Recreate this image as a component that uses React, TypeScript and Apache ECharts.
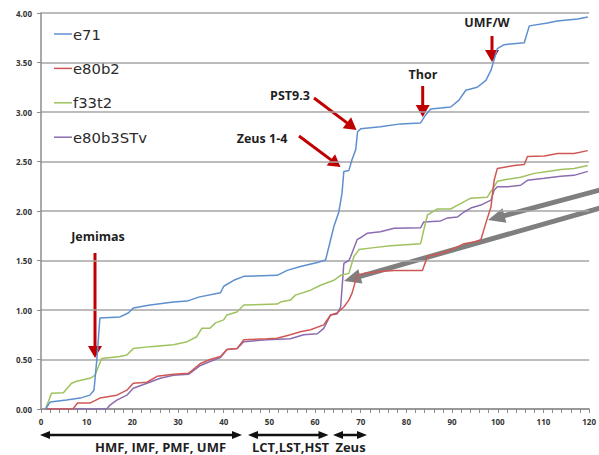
import React, { useEffect, useRef } from "react";
import * as echarts from "echarts";

// Cumulative values per build, sampled along the x range 0–120.
const e71X = [1, 2, 5.6, 8.6, 10.7, 11.6, 12.2, 12.9, 17.3, 19.1, 20.2, 23.9, 29, 32, 34.5, 39.3, 40, 42.2, 44.4, 51.7, 53.9, 56.8, 60.5, 62.3, 63.4, 64.1, 65.2, 65.9, 66.3, 67.4, 68.1, 68.9, 69.3, 70, 74.3, 78.7, 83.1, 84.2, 85.3, 89.7, 91.5, 93, 95.5, 97.4, 98.5, 99.2, 99.9, 101.4, 105.8, 106.9, 110.9, 113, 117.5, 119.7];
const e71Y = [0, 0.07, 0.09, 0.11, 0.14, 0.19, 0.49, 0.92, 0.93, 0.97, 1.02, 1.05, 1.08, 1.09, 1.13, 1.175, 1.24, 1.3, 1.34, 1.35, 1.4, 1.44, 1.48, 1.505, 1.71, 1.84, 1.99, 2.18, 2.4, 2.41, 2.52, 2.62, 2.8, 2.83, 2.85, 2.88, 2.89, 2.97, 3.03, 3.05, 3.12, 3.22, 3.25, 3.32, 3.42, 3.53, 3.64, 3.68, 3.7, 3.87, 3.9, 3.92, 3.94, 3.96];

const e80b2X = [1, 7, 8, 10.7, 12.9, 16.6, 18.8, 20.2, 23.2, 25.4, 29, 32.3, 34.9, 37, 39.3, 40.7, 42.9, 44.4, 49.5, 51.7, 54.6, 56.8, 59, 61.9, 63.4, 64.8, 66.3, 67.4, 68.1, 69.2, 70.7, 74.3, 77.3, 83.5, 84.6, 87.5, 90.4, 92.6, 95, 96.3, 97.4, 98.5, 99.2, 99.9, 103.6, 105.8, 106.5, 110.2, 113.1, 116.7, 119.7];
const e80b2Y = [0, 0, 0.06, 0.06, 0.11, 0.14, 0.19, 0.26, 0.27, 0.33, 0.35, 0.36, 0.46, 0.5, 0.53, 0.6, 0.61, 0.7, 0.71, 0.715, 0.75, 0.78, 0.8, 0.85, 0.95, 0.97, 1.03, 1.1, 1.17, 1.35, 1.37, 1.39, 1.4, 1.4, 1.54, 1.57, 1.62, 1.67, 1.69, 1.71, 1.88, 2.04, 2.31, 2.43, 2.46, 2.47, 2.55, 2.555, 2.58, 2.58, 2.61];

const f33t2X = [1, 2.3, 4.9, 6.7, 7.8, 10.7, 11.8, 13.3, 17.3, 18.8, 20.2, 23.9, 29, 32, 34.1, 35.2, 37, 38.2, 40, 40.7, 42.9, 44.4, 51.7, 52.4, 54.6, 55.7, 59, 61.2, 64.1, 65.6, 67.4, 68.5, 69.6, 72.9, 76.5, 83.1, 83.8, 84.6, 86.8, 89.7, 91.2, 94.1, 97.7, 99.2, 99.9, 102.1, 105, 108, 110.9, 113.8, 116.7, 119.7];
const f33t2Y = [0, 0.16, 0.165, 0.26, 0.28, 0.31, 0.34, 0.51, 0.53, 0.545, 0.61, 0.63, 0.65, 0.68, 0.73, 0.815, 0.815, 0.87, 0.9, 0.95, 0.98, 1.05, 1.06, 1.08, 1.1, 1.15, 1.2, 1.25, 1.3, 1.35, 1.37, 1.54, 1.61, 1.63, 1.65, 1.67, 1.81, 1.96, 2.02, 2.02, 2.06, 2.13, 2.14, 2.245, 2.3, 2.32, 2.34, 2.38, 2.4, 2.42, 2.43, 2.46];

const e80b3STvX = [1, 14.4, 15.1, 16.6, 18.8, 20.2, 23.2, 26.1, 29, 32.3, 34.9, 37, 39.3, 40.7, 42.9, 44.4, 49.5, 54.6, 57.5, 60.5, 61.9, 63.4, 64.8, 65.6, 66.3, 67.4, 67.8, 69.2, 70.3, 71.4, 74.3, 77.3, 83.1, 83.8, 87.5, 89, 91.2, 92.6, 94.1, 96.3, 98.5, 99.2, 99.9, 102.1, 105, 106.5, 110.2, 113.8, 116.7, 119.7];
const e80b3STvY = [0, 0, 0.04, 0.09, 0.14, 0.21, 0.26, 0.31, 0.34, 0.35, 0.44, 0.48, 0.52, 0.6, 0.61, 0.68, 0.7, 0.71, 0.75, 0.76, 0.815, 0.95, 0.96, 1.03, 1.47, 1.5, 1.54, 1.71, 1.74, 1.775, 1.79, 1.825, 1.83, 1.89, 1.9, 1.93, 1.94, 1.99, 2.03, 2.06, 2.11, 2.21, 2.245, 2.245, 2.26, 2.31, 2.33, 2.35, 2.36, 2.4];

const seriesNames = ["e71", "e80b2", "f33t2", "e80b3STv"];
const seriesColors = ["#5e8fcf", "#cf5855", "#9fc25f", "#8a6db0"];
const seriesX = [e71X, e80b2X, f33t2X, e80b3STvX];
const seriesY = [e71Y, e80b2Y, f33t2Y, e80b3STvY];

const xMin = 0;
const xMax = 120;
const xStep = 10;
const yMin = 0;
const yMax = 4;
const yStep = 0.5;

const FONT = "'Open Sans', 'DejaVu Sans', sans-serif";
const LEGEND_FONT = "'DejaVu Sans', sans-serif";

type Pt = [number, number];

// Straight arrow with a triangular head at `to` (and optionally at `from`).
function arrow(from: Pt, to: Pt, color: string, width: number, headLen: number, headW: number, both = false) {
  const dx = to[0] - from[0];
  const dy = to[1] - from[1];
  const len = Math.hypot(dx, dy);
  const ux = dx / len;
  const uy = dy / len;
  const nx = -uy;
  const ny = ux;
  const head = (tip: Pt, sx: number, sy: number) => {
    const bx = tip[0] - sx * headLen;
    const by = tip[1] - sy * headLen;
    return {
      type: "polygon",
      silent: true,
      shape: {
        points: [
          [tip[0], tip[1]],
          [bx + nx * headW / 2, by + ny * headW / 2],
          [bx - nx * headW / 2, by - ny * headW / 2],
        ],
      },
      style: { fill: color },
    };
  };
  const start: Pt = both ? [from[0] + ux * (headLen - 1), from[1] + uy * (headLen - 1)] : from;
  const end: Pt = [to[0] - ux * (headLen - 1), to[1] - uy * (headLen - 1)];
  const items: any[] = [
    {
      type: "line",
      silent: true,
      shape: { x1: start[0], y1: start[1], x2: end[0], y2: end[1] },
      style: { stroke: color, lineWidth: width },
    },
    head(to, ux, uy),
  ];
  if (both) items.push(head(from, -ux, -uy));
  return items;
}

function label(text: string, x: number, y: number, size: number) {
  return {
    type: "text",
    silent: true,
    x,
    y,
    style: {
      text,
      fill: "#1f1f1f",
      font: `bold ${size}px ${FONT}`,
      align: "center",
      verticalAlign: "middle",
    },
  };
}

// Key in the upper-left corner of the plot: a short line swatch and the series name.
function legendItems() {
  const items: any[] = [];
  seriesNames.forEach((name, i) => {
    const y = 34 + i * 34.4;
    items.push({
      type: "line",
      silent: true,
      shape: { x1: 54, y1: y, x2: 72, y2: y },
      style: { stroke: seriesColors[i], lineWidth: 1.5 },
    });
    items.push({
      type: "text",
      silent: true,
      x: 73,
      y,
      style: {
        text: name,
        fill: "#2b2b2b",
        font: `14.8px ${LEGEND_FONT}`,
        align: "left",
        verticalAlign: "middle",
      },
    });
  });
  return items;
}

const RED = "#c00000";
const GRAY = "#7f7f7f";
const BLACK = "#111111";

export default function App() {
  const ref = useRef<HTMLDivElement>(null);

  useEffect(() => {
    if (!ref.current) return;
    const chart = echarts.init(ref.current, undefined, { renderer: "svg" });

    const series = seriesNames.map((name, i) => ({
      name,
      type: "line",
      data: seriesX[i].map((x, j) => [x, seriesY[i][j]]),
      symbol: "none",
      lineStyle: { color: seriesColors[i], width: 1.5 },
      itemStyle: { color: seriesColors[i] },
      z: 2 + (seriesNames.length - i),
    }));

    const graphic: any[] = [
      ...legendItems(),
      label("Jemimas", 98, 236, 12.5),
      ...arrow([95, 253], [95, 358], RED, 3, 12, 14),
      label("Zeus 1-4", 262, 138, 12.5),
      ...arrow([299, 136], [340.5, 167], RED, 3, 12, 14),
      label("PST9.3", 290, 95, 12.5),
      ...arrow([314, 98], [356.5, 130], RED, 3, 12, 14),
      label("Thor", 423, 74, 12.5),
      ...arrow([422.7, 86], [422.7, 117], RED, 3, 12, 14),
      label("UMF/W", 487, 22, 12.5),
      ...arrow([492, 36], [492, 62], RED, 3, 12, 14),
      ...arrow([600, 190], [488, 220], GRAY, 5, 17, 15),
      ...arrow([600, 208], [344, 281], GRAY, 5, 17, 15),
      ...arrow([40, 435], [242, 435], BLACK, 2.5, 10, 8, true),
      label("HMF, IMF, PMF, UMF", 160.5, 447, 13),
      ...arrow([248, 435], [328.5, 435], BLACK, 2.5, 10, 8, true),
      label("LCT,LST,HST", 290.5, 447, 13),
      ...arrow([333, 435], [367, 435], BLACK, 2.5, 10, 8, true),
      label("Zeus", 350.5, 447, 13),
    ];

    chart.setOption({
      animation: false,
      backgroundColor: "#ffffff",
      textStyle: { fontFamily: FONT },
      grid: { left: 41, right: 8, top: 13, bottom: 46, containLabel: false },
      xAxis: {
        type: "value",
        min: xMin,
        max: xMax,
        interval: xStep,
        axisLine: { show: true, lineStyle: { color: "#8c8c8c", width: 1.5 } },
        axisTick: { show: true, length: 4, lineStyle: { color: "#8c8c8c" } },
        minorTick: { show: true, splitNumber: 5, length: 4, lineStyle: { color: "#8c8c8c" } },
        splitLine: { show: false },
        axisLabel: { fontSize: 8, fontWeight: "bold", color: "#333333", margin: 8, fontFamily: FONT },
      },
      yAxis: {
        type: "value",
        min: yMin,
        max: yMax,
        interval: yStep,
        axisLine: { show: true, lineStyle: { color: "#8c8c8c", width: 1.5 } },
        axisTick: { show: true, length: 4, lineStyle: { color: "#8c8c8c" } },
        splitLine: { show: true, lineStyle: { color: "#a6a6a6", width: 1.5 } },
        axisLabel: {
          fontSize: 8,
          fontWeight: "bold",
          color: "#333333",
          margin: 9,
          fontFamily: FONT,
          formatter: (v: number) => v.toFixed(2),
        },
      },
      series,
      graphic,
    });

    return () => chart.dispose();
  }, []);

  return (
    <div
      ref={ref}
      style={{ position: "fixed", left: 0, top: 0, width: 599, height: 455, background: "#fff" }}
    />
  );
}
